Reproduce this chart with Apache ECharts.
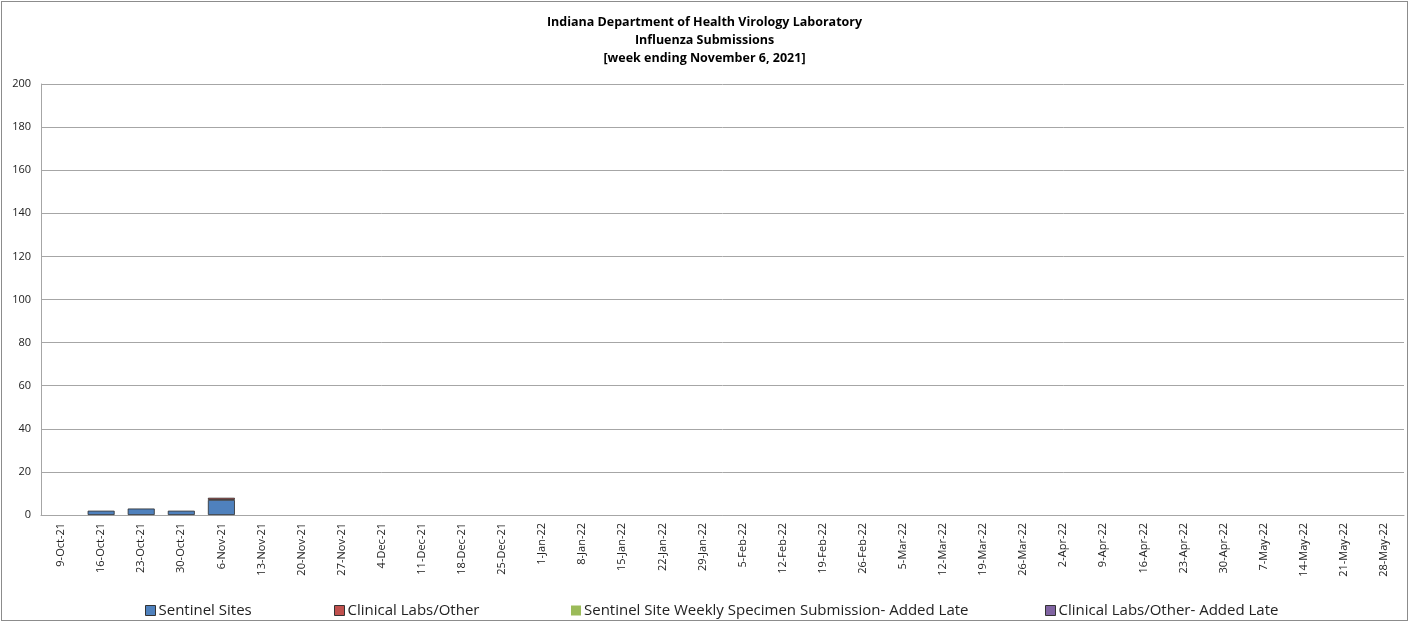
<!DOCTYPE html>
<html>
<head>
<meta charset="utf-8">
<script src="https://cdn.jsdelivr.net/npm/echarts@6/dist/echarts.min.js"></script>
<style>
html,body{margin:0;padding:0;background:#fff;}
#wrap{position:absolute;left:1px;top:1px;width:1405px;height:618px;border:1px solid #8c8c8c;}
#chart{width:1405px;height:618px;}
</style>
</head>
<body>
<div id="wrap"><div id="chart"></div></div>
<script>
const categories = ["9-Oct-21","16-Oct-21","23-Oct-21","30-Oct-21","6-Nov-21","13-Nov-21","20-Nov-21","27-Nov-21","4-Dec-21","11-Dec-21","18-Dec-21","25-Dec-21","1-Jan-22","8-Jan-22","15-Jan-22","22-Jan-22","29-Jan-22","5-Feb-22","12-Feb-22","19-Feb-22","26-Feb-22","5-Mar-22","12-Mar-22","19-Mar-22","26-Mar-22","2-Apr-22","9-Apr-22","16-Apr-22","23-Apr-22","30-Apr-22","7-May-22","14-May-22","21-May-22","28-May-22"];
// null = no submissions / not yet reported
const sentinelSites = [null,2,3,2,7,null,null,null,null,null,null,null,null,null,null,null,null,null,null,null,null,null,null,null,null,null,null,null,null,null,null,null,null,null];
const clinicalLabs = [null,null,null,null,1,null,null,null,null,null,null,null,null,null,null,null,null,null,null,null,null,null,null,null,null,null,null,null,null,null,null,null,null,null];
const sentinelLate = [null,null,null,null,null,null,null,null,null,null,null,null,null,null,null,null,null,null,null,null,null,null,null,null,null,null,null,null,null,null,null,null,null,null];
const clinicalLate = [null,null,null,null,null,null,null,null,null,null,null,null,null,null,null,null,null,null,null,null,null,null,null,null,null,null,null,null,null,null,null,null,null,null];
const seriesNames = ["Sentinel Sites","Clinical Labs/Other","Sentinel Site Weekly Specimen Submission- Added Late","Clinical Labs/Other- Added Late"];
const colors = ["#4f81bd","#c0504d","#9bbb59","#8064a2"];
const yTicks = {min:0,max:200,interval:20};

const chart = echarts.init(document.getElementById('chart'));
const font = "'Open Sans', 'Liberation Sans', sans-serif";
const dataSets = [sentinelSites, clinicalLabs, sentinelLate, clinicalLate];
const legendLeft = [139, 328, 565, 1039];
function mkSeries(i){
  return {
    name: seriesNames[i], type:'bar', stack:'total', data: dataSets[i],
    barWidth: 27,
    itemStyle:{color:colors[i], borderColor: '#2b2b2b', borderWidth: 0.8},
    emphasis:{disabled:true}
  };
}
chart.setOption({
  animation:false,
  title:{
    text:"Indiana Department of Health Virology Laboratory\nInfluenza Submissions\n[week ending November 6, 2021]",
    left:'center', top:6,
    textStyle:{fontFamily:font, fontSize:12.5, fontWeight:'bold', color:'#000', lineHeight:18}
  },
  legend: seriesNames.map((n,i)=>({
    data:[n], left:legendLeft[i]-1, top:596, itemWidth:10, itemHeight:10, icon:'rect',
    itemGap:4,
    textStyle:{fontFamily:font, fontSize:15, color:'#222', padding:[0,0,0,-2]},
    itemStyle: i===2 ? {borderWidth:0} : {borderColor:'#333', borderWidth:1}
  })),
  grid:{left:39, right:3, top:82, bottom:105, containLabel:false},
  xAxis:{
    type:'category', data:categories,
    axisLine:{lineStyle:{color:'#a6a6a6'}},
    axisTick:{show:false},
    axisLabel:{rotate:90, interval:0, fontFamily:font, fontSize:11, color:'#222', margin:8}
  },
  yAxis:{
    type:'value', min:yTicks.min, max:yTicks.max, interval:yTicks.interval,
    axisLine:{show:true, lineStyle:{color:'#a6a6a6'}},
    axisTick:{show:false},
    splitLine:{lineStyle:{color:'#a6a6a6'}},
    axisLabel:{fontFamily:font, fontSize:11, color:'#222', margin:10}
  },
  series:[0,1,2,3].map(mkSeries)
});
</script>
</body>
</html>
